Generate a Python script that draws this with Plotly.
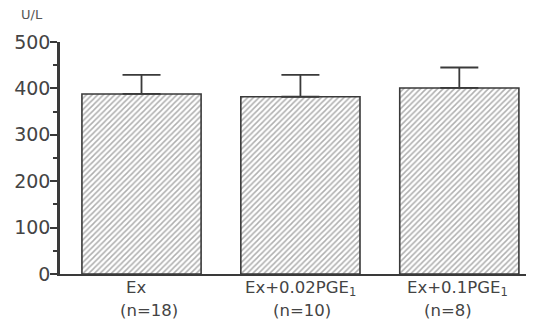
import plotly.graph_objects as go

categories = ["Ex", "Ex+0.02PGE<sub>1</sub>", "Ex+0.1PGE<sub>1</sub>"]
n_labels = ["(n=18)", "(n=10)", "(n=8)"]
means = [388, 382, 401]
errors = [41, 47, 44]
y_ticks = [0, 100, 200, 300, 400, 500]

xpos = list(range(len(categories)))
ink = "#3a3a3a"
font_family = "DejaVu Sans, Noto Sans, sans-serif"

# page body has an 8px default margin; size the figure so it lands where the reference is
FIG_W, FIG_H = 526, 316
ML, MR, MT, MB = 52, 0, 34, 50

fig = go.Figure()
fig.add_trace(go.Bar(
    x=xpos, y=means, width=0.75,
    marker=dict(color="white",
                line=dict(color=ink, width=1.6),
                pattern=dict(shape="/", size=4, solidity=0.38, fgcolor="#606060", bgcolor="white")),
    error_y=dict(type="data", array=errors, arrayminus=[0]*len(errors), symmetric=False,
                 color=ink, thickness=1.8, width=19),
    showlegend=False,
))

annotations = []
label_dx = [-6, 0, -2]
n_dx = [7, 2, -11]
for i, (c, n) in enumerate(zip(categories, n_labels)):
    annotations.append(dict(x=i, y=0, xref="x", yref="paper", text=c, showarrow=False,
                            xanchor="center", yanchor="top",
                            xshift=label_dx[i], yshift=-2, font=dict(size=16.5, color="#444", family=font_family)))
    annotations.append(dict(x=i, y=0, xref="x", yref="paper", text=n, showarrow=False,
                            xanchor="center", yanchor="top",
                            xshift=n_dx[i], yshift=-25, font=dict(size=16.5, color="#444", family=font_family)))

plot_w = FIG_W - ML - MR
plot_h = FIG_H - MT - MB
annotations.append(dict(x=(24 - ML) / plot_w, y=(plot_h + MT - 7) / plot_h, xref="paper", yref="paper",
                        text="U/L", showarrow=False, xanchor="center", yanchor="middle",
                        font=dict(size=13, color="#555", family=font_family)))

fig.update_layout(
    width=FIG_W, height=FIG_H,
    margin=dict(l=ML, r=MR, t=MT, b=MB),
    plot_bgcolor="white", paper_bgcolor="white",
    font=dict(family=font_family, color="#444"),
    xaxis=dict(range=[-0.513, 2.47], showticklabels=False, ticks="", showline=True,
               linecolor=ink, linewidth=2, showgrid=False, zeroline=False, fixedrange=True),
    yaxis=dict(range=[0, 500], tickvals=y_ticks, ticks="outside", ticklen=7, tickwidth=2,
               tickcolor=ink, showline=True, linecolor=ink, linewidth=2.5, showgrid=False,
               zeroline=False, tickfont=dict(size=19, color="#444", family=font_family),
               ticklabelstandoff=-4,
               minor=dict(dtick=50, ticks="outside", ticklen=4, tickwidth=2, tickcolor=ink)),
    annotations=annotations,
)
fig.write_html("out.html")
